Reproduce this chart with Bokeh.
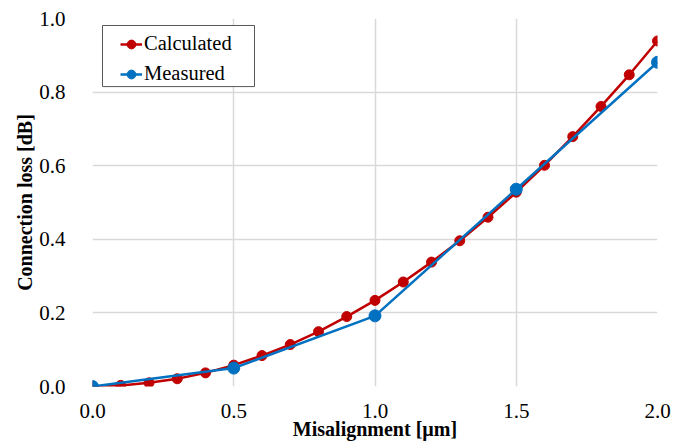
from bokeh.plotting import figure
from bokeh.models import Range1d, FixedTicker, Legend, LegendItem, CustomJSTickFormatter, BoxAnnotation
from bokeh.embed import file_html
from bokeh.resources import INLINE

calc_x = [0.0, 0.1, 0.2, 0.3, 0.4, 0.5, 0.6, 0.7, 0.8, 0.9, 1.0,
          1.1, 1.2, 1.3, 1.4, 1.5, 1.6, 1.7, 1.8, 1.9, 2.0]
calc_y = [0.0, 0.003, 0.010, 0.021, 0.037, 0.058, 0.084, 0.114, 0.149, 0.190, 0.234,
          0.284, 0.338, 0.396, 0.460, 0.528, 0.601, 0.679, 0.761, 0.847, 0.939]
meas_x = [0.0, 0.5, 1.0, 1.5, 2.0]
meas_y = [0.0, 0.050, 0.192, 0.536, 0.881]
x_ticks = [0.0, 0.5, 1.0, 1.5, 2.0]
y_ticks = [0.0, 0.2, 0.4, 0.6, 0.8, 1.0]

RED = "#C00000"
BLUE = "#0070C0"
FONT = "Liberation Serif"

p = figure(width=684, height=443, output_backend="svg", toolbar_location=None,
           x_range=Range1d(0, 2.0), y_range=Range1d(0, 1.0),
           min_border_left=92, min_border_right=27, min_border_top=18, min_border_bottom=57)
p.outline_line_color = None
p.background_fill_color = "white"

r1 = p.line(calc_x, calc_y, line_color=RED, line_width=2.5)
s1 = p.scatter(calc_x, calc_y, size=10, fill_color=RED, line_color=RED)
r2 = p.line(meas_x, meas_y, line_color=BLUE, line_width=2.5)
s2 = p.scatter(meas_x, meas_y, size=12, fill_color=BLUE, line_color=BLUE)

fmt = CustomJSTickFormatter(code="return tick.toFixed(1);")
p.xaxis.ticker = FixedTicker(ticks=x_ticks)
p.yaxis.ticker = FixedTicker(ticks=y_ticks)
p.axis.formatter = fmt
p.axis.axis_line_color = None
p.axis.major_tick_line_color = None
p.axis.minor_tick_line_color = None
p.axis.major_label_text_font = FONT
p.axis.major_label_text_font_size = "21px"
p.axis.major_label_text_color = "black"
p.axis.axis_label_text_font = FONT
p.axis.axis_label_text_font_size = "20px"
p.axis.axis_label_text_font_style = "bold"
p.axis.axis_label_text_color = "black"

p.xaxis.axis_label = "Misalignment [µm]"
p.yaxis.axis_label = "Connection loss [dB]"
p.xaxis.major_label_standoff = 11
p.xaxis.axis_label_standoff = -3
p.yaxis.major_label_standoff = 21
p.yaxis.axis_label_standoff = 0

p.xgrid.ticker = FixedTicker(ticks=x_ticks)
p.ygrid.ticker = FixedTicker(ticks=y_ticks)
p.grid.grid_line_color = "#d9d9d9"
p.grid.grid_line_width = 1.5

# legend frame
p.add_layout(BoxAnnotation(left=0.0354, right=0.5735, bottom=0.815, top=0.981,
                           fill_color="white", fill_alpha=1.0,
                           line_color="#595959", line_width=1, line_alpha=1.0))

legend = Legend(items=[LegendItem(label="Calculated", renderers=[r1, s1]),
                       LegendItem(label="Measured", renderers=[r2, s2])],
                location=(28, 301))
legend.label_text_font = FONT
legend.label_text_font_size = "20.5px"
legend.label_text_color = "black"
legend.border_line_color = None
legend.background_fill_alpha = 0
legend.padding = 4
legend.margin = 0
legend.spacing = 7
legend.glyph_width = 22
legend.glyph_height = 22
legend.label_height = 22
legend.label_standoff = 2
p.add_layout(legend, "center")

open("out.html", "w").write(file_html(p, INLINE))
